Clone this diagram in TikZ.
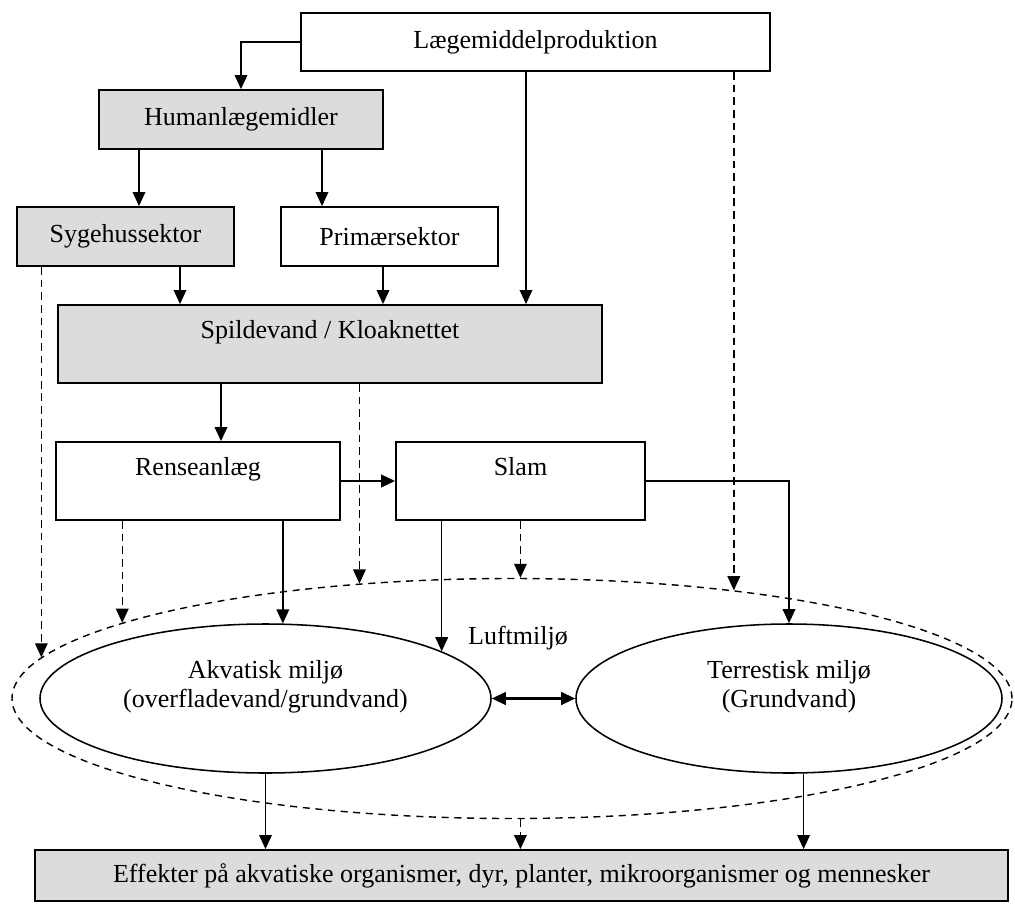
\documentclass[tikz,border=0pt]{standalone}
\usepackage{fontspec}
\setmainfont{Liberation Serif}
\usetikzlibrary{arrows.meta,shapes.geometric}
\definecolor{boxgray}{RGB}{220,220,220}
\newlength\pxu
\setlength\pxu{0.025cm}

\begin{document}
\begin{tikzpicture}[x=0.025cm, y=-0.025cm,
    font=\fontsize{18.5pt}{20.5pt}\selectfont,
    box/.style={draw, line width=1.3pt, rectangle, inner sep=0pt, align=center},
    greybox/.style={box, fill=boxgray},
    env/.style={draw, line width=1.1pt, ellipse, inner sep=0pt, align=center},
    arr/.style={-{Triangle[length=10pt,width=9pt]}, line width=1pt},
    dasharr/.style={arr, dash pattern=on 5.5pt off 3.5pt}]
  \useasboundingbox (0,0) rectangle (1015,903);
  % boxes
  \node[box, minimum width=469\pxu, minimum height=58\pxu] (lmp) at (535.5,42) {Lægemiddelproduktion};
  \node[greybox, minimum width=284\pxu, minimum height=59\pxu] (human) at (241,119.5) {Humanlægemidler};
  \node[greybox, minimum width=217\pxu, minimum height=59\pxu] (syg) at (125.5,236.5) {Sygehussektor};
  \node[box, minimum width=217\pxu, minimum height=59\pxu] (prim) at (389.5,236.5) {Primærsektor};
  \node[greybox, minimum width=544\pxu, minimum height=78\pxu] (spild) at (330,344) {Spildevand / Kloaknettet\\~};
  \node[box, minimum width=284\pxu, minimum height=78\pxu] (rense) at (198,481) {Renseanlæg\\~};
  \node[box, minimum width=249\pxu, minimum height=78\pxu] (slam) at (520.5,481) {Slam\\~};
  % environments
  \node[env, line width=1pt, dash pattern=on 5pt off 4pt, minimum width=1000\pxu, minimum height=240\pxu] (air) at (512,698.5) {};
  \node (luft) at (518,638) {Luftmiljø};
  \node[env, minimum width=451\pxu, minimum height=149\pxu] (aqua) at (265.5,698.5) {Akvatisk miljø\\(overfladevand/grundvand)\\~};
  \node[env, minimum width=426\pxu, minimum height=149\pxu] (terr) at (789,698.5) {Terrestisk miljø\\(Grundvand)\\~};
  \node[greybox, minimum width=973\pxu, minimum height=51\pxu] (eff) at (521.5,875.5) {Effekter på akvatiske organismer, dyr, planter, mikroorganismer og mennesker};
  % connectors
  \draw[arr] (lmp.west) -| (human.north);
  \draw[arr] (human.south -| 139,0) -- (syg.north -| 139,0);
  \draw[arr] (human.south -| 322,0) -- (prim.north -| 322,0);
  \draw[arr] (lmp.south -| 526,0) -- (spild.north -| 526,0);
  \draw[dasharr] (lmp.south -| air.26) -- (air.26);
  \draw[arr] (syg.south -| 180,0) -- (spild.north -| 180,0);
  \draw[arr] (prim.south -| 383,0) -- (spild.north -| 383,0);
  \draw[dasharr] (syg.south -| air.175) -- (air.175);
  \draw[arr] (spild.south -| 221,0) -- (rense.north -| 221,0);
  \draw[dasharr] (spild.south -| air.143) -- (air.143);
  \draw[arr, line width=1.5pt] (rense.east) -- (slam.west);
  \draw[dasharr] (rense.south -| air.169) -- (air.169);
  \draw[arr] (rense.south -| aqua.77) -- (aqua.77);
  \draw[arr] (slam.south -| aqua.15) -- (aqua.15);
  \draw[dasharr] (slam.south -| air.86) -- (air.86);
  \draw[arr] (slam.east) -| (terr.north);
  \draw[{Triangle[length=10pt,width=9pt]}-{Triangle[length=10pt,width=9pt]}, line width=1.6pt] (aqua.east) -- (terr.west);
  \draw[arr] (aqua.south) -- (aqua.south |- eff.north);
  \draw[dasharr] (air.-86) -- (air.-86 |- eff.north);
  \draw[arr] (terr.-79) -- (terr.-79 |- eff.north);
\end{tikzpicture}
\end{document}
